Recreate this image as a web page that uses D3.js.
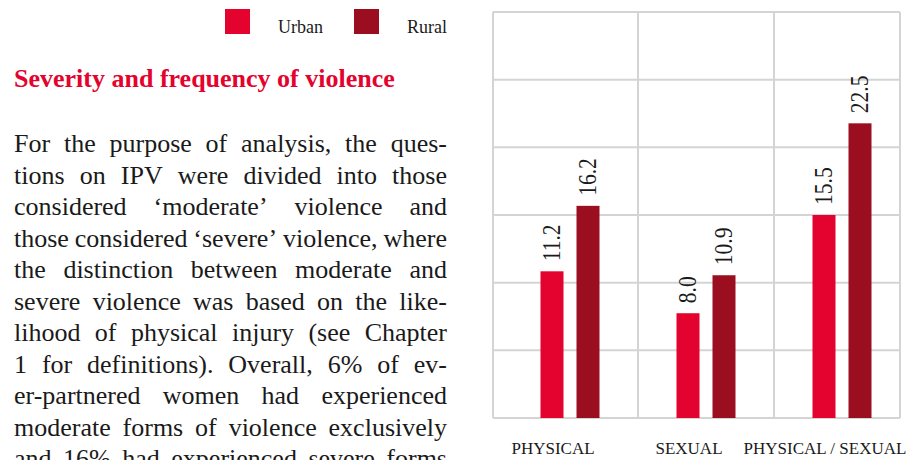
<!DOCTYPE html>
<html>
<head>
<meta charset="utf-8">
<script src="https://cdn.jsdelivr.net/npm/d3@7"></script>
<style>
  body { margin: 0; background: #fff; }
  svg { display: block; }
</style>
</head>
<body>
<svg width="907" height="460"></svg>
<script>
// data
var categories = ["PHYSICAL", "SEXUAL", "PHYSICAL / SEXUAL"];
var seriesNames = ["Urban", "Rural"];
var urban = [11.2, 8.0, 15.5];
var rural = [16.2, 10.9, 22.5];
var seriesColors = ["#e3032e", "#9b0e1f"];

var title = "Severity and frequency of violence";
var paragraph = [
    "For the purpose of analysis, the ques-",
    "tions on IPV were divided into those",
    "considered \u2018moderate\u2019 violence and",
    "those considered \u2018severe\u2019 violence, where",
    "the distinction between moderate and",
    "severe violence was based on the like-",
    "lihood of physical injury (see Chapter",
    "1 for definitions). Overall, 6% of ev-",
    "er-partnered women had experienced",
    "moderate forms of violence exclusively",
    "and 16% had experienced severe forms"
];

var serif = "Liberation Serif";
var svg = d3.select("svg");

// ---- left column: legend, heading, justified text
var legend = svg.append("g").attr("class", "legend");
var legendX = [225, 354];
seriesNames.forEach(function(name, i) {
    legend.append("rect")
        .attr("x", legendX[i]).attr("y", 9)
        .attr("width", 25).attr("height", 25)
        .attr("fill", seriesColors[i]);
    legend.append("text")
        .attr("x", legendX[i] + 53).attr("y", 33)
        .style("font-family", serif)
        .style("font-size", "18px")
        .attr("fill", "#1a1a1a")
        .text(name);
});

svg.append("text")
    .attr("x", 14).attr("y", 87)
    .style("font-family", serif)
    .style("font-size", "26px")
    .style("font-weight", "bold")
    .attr("fill", "#e3032e")
    .text(title);

// justify each line between left and right edge
var textLeft = 14, textRight = 447, lineH = 31.5, firstBase = 152;
var body = svg.append("g").attr("class", "body-text");
function bodyText(sel) {
    return sel.style("font-family", serif).style("font-size", "26px").attr("fill", "#1a1a1a");
}
var probe = bodyText(body.append("text"));
function measure(s) {
    probe.text(s);
    return probe.node().getComputedTextLength();
}
paragraph.forEach(function(line, li) {
    var words = line.split(" ");
    var widths = words.map(measure);
    var total = d3.sum(widths);
    var gap = (textRight - textLeft - total) / (words.length - 1);
    var t = bodyText(body.append("text")).attr("y", firstBase + li * lineH);
    var x = textLeft;
    words.forEach(function(w, wi) {
        t.append("tspan").attr("x", x).text(w);
        x += widths[wi] + gap;
    });
});
probe.remove();

// ---- chart on the right
var plot = { left: 493, right: 900, top: 12, bottom: 418 };
var yMax = 31;

var x = d3.scaleBand()
    .domain(categories)
    .range([502, 910]);
var xInner = d3.scaleBand()
    .domain(seriesNames)
    .range([0, 59])
    .paddingInner(13 / 36);
var y = d3.scaleLinear()
    .domain([0, yMax])
    .range([plot.bottom, plot.top]);

var grid = svg.append("g").attr("class", "grid")
    .attr("stroke", "#d4d4d4")
    .attr("stroke-width", 2)
    .attr("fill", "none");
// horizontal lines
grid.selectAll(".h")
    .data(d3.range(7).map(function(i) { return yMax * i / 6; }))
    .enter().append("line")
    .attr("x1", plot.left).attr("x2", plot.right)
    .attr("y1", function(d) { return y(d); })
    .attr("y2", function(d) { return y(d); });
// vertical lines: frame + category boundaries
grid.selectAll(".v")
    .data([plot.left].concat(categories.slice(1).map(function(c) { return x(c); }), [plot.right]))
    .enter().append("line")
    .attr("x1", function(d) { return d; }).attr("x2", function(d) { return d; })
    .attr("y1", plot.top).attr("y2", plot.bottom);

var rows = categories.map(function(c, i) {
    return { cat: c, values: [
        { key: "Urban", value: urban[i] },
        { key: "Rural", value: rural[i] }
    ] };
});

var groups = svg.selectAll(".group")
    .data(rows)
    .enter().append("g")
    .attr("class", "group")
    .attr("transform", function(d) {
        return "translate(" + (x(d.cat) + x.bandwidth() / 2 - 29.5) + ",0)";
    });

groups.selectAll("rect")
    .data(function(d) { return d.values; })
    .enter().append("rect")
    .attr("x", function(d) { return xInner(d.key); })
    .attr("width", xInner.bandwidth())
    .attr("y", function(d) { return y(d.value); })
    .attr("height", function(d) { return y(0) - y(d.value); })
    .attr("fill", function(d, i) { return seriesColors[i]; });

groups.selectAll(".val")
    .data(function(d) { return d.values; })
    .enter().append("text")
    .attr("class", "val")
    .attr("transform", function(d) {
        var cx = xInner(d.key) + xInner.bandwidth() / 2 + 7.5;
        return "translate(" + cx + "," + (y(d.value) - 10) + ") rotate(-90) scale(0.83,1)";
    })
    .style("font-family", serif)
    .style("font-size", "26px")
    .attr("fill", "#1a1a1a")
    .text(function(d) { return d.value.toFixed(1); });

// category labels under the plot
svg.selectAll(".cat")
    .data(categories)
    .enter().append("text")
    .attr("class", "cat")
    .attr("x", function(d) { return x(d) + x.bandwidth() / 2 - 17; })
    .attr("y", 454)
    .attr("text-anchor", "middle")
    .style("font-family", serif)
    .style("font-size", "17px")
    .attr("fill", "#1a1a1a")
    .text(function(d) { return d; });
</script>
</body>
</html>
